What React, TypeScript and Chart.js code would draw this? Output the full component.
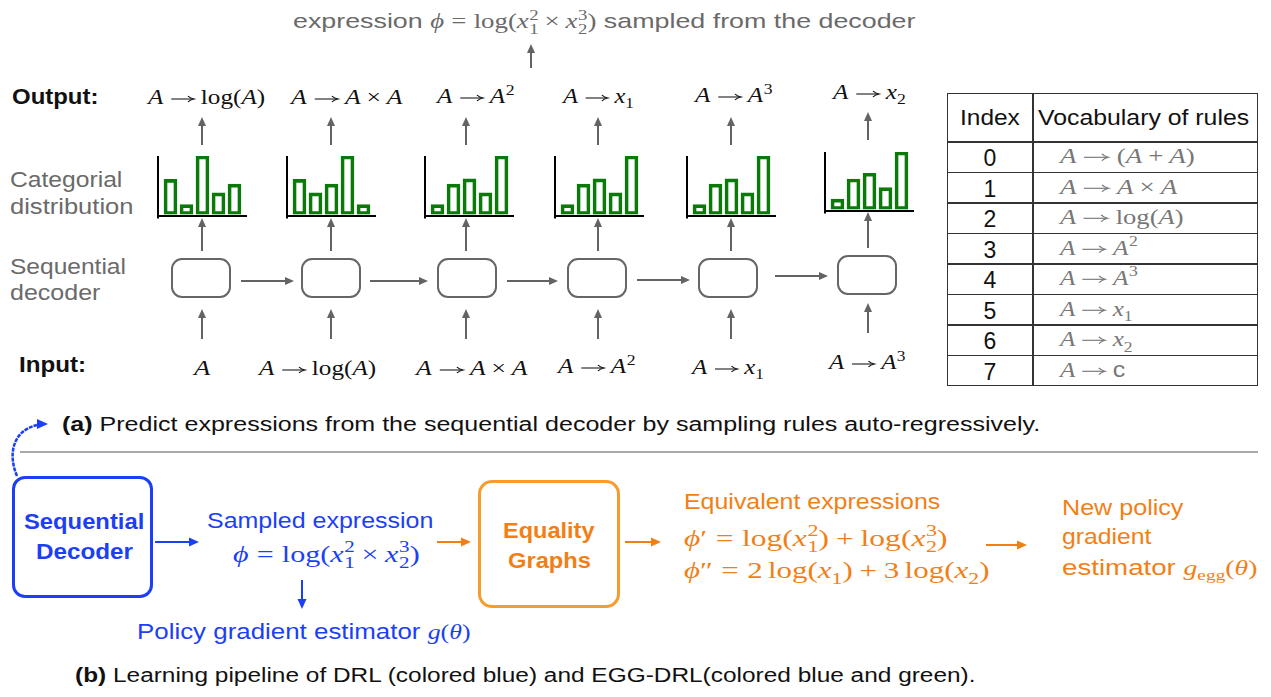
import React, { useEffect, useLayoutEffect, useRef } from 'react';
import { Chart, registerables } from 'chart.js';
Chart.register(...registerables);

// ---------- data ----------
const barCategories = ['0', '1', '2', '3', '4'];
const dist1 = [0.6, 0.17, 1.0, 0.37, 0.52];
const dist2 = [0.6, 0.37, 0.52, 1.0, 0.17];
const dist3 = [0.17, 0.52, 0.61, 0.37, 1.0];
const dist4 = [0.17, 0.52, 0.61, 0.37, 1.0];
const dist5 = [0.17, 0.52, 0.61, 0.37, 1.0];
const dist6 = [0.18, 0.53, 0.63, 0.38, 1.0];
const distributions = [dist1, dist2, dist3, dist4, dist5, dist6];

const outputRules = ['A → log(A)', 'A → A × A', 'A → A^2', 'A → x_1', 'A → A^3', 'A → x_2'];
const inputRules = ['A', 'A → log(A)', 'A → A × A', 'A → A^2', 'A → x_1', 'A → A^3'];
const ruleIndex = ['0', '1', '2', '3', '4', '5', '6', '7'];
const vocabRules = ['A → (A + A)', 'A → A × A', 'A → log(A)', 'A → A^2', 'A → A^3', 'A → x_1', 'A → x_2', 'A → c'];

// ---------- layout ----------
const colX = [202, 331, 466, 598, 731, 868];
const chartLeft = [158, 287, 425, 555, 687, 825];
const chartTop = [156, 156, 156, 156, 156, 152];
const chartBase = [216, 216, 216, 216, 216, 211];
const outLeft = [148, 291, 437, 563, 695, 833];
const outW = [117, 112, 78, 71, 78, 73];
const outY = [97, 97, 96, 96, 95, 92];
const inLeft = [194, 259, 416, 558, 692, 829];
const inW = [16, 117, 112, 78, 72, 77];
const inY = [368, 368, 368, 366, 367, 362];
const vocabW = [135, 117, 123, 78, 78, 73, 73, 65];
const decX = [171, 301, 437, 567, 698, 837];
const decY = [258, 258, 258, 258, 258, 255];

const GREEN = '#0b7a0b';
const GREY = '#6a6a6a';
const ARROW = '#636363';
const BLUE = '#1c3ff5';
const ORANGE = '#f27f16';
const ORANGE_BOX = '#f79c2c';
const SERIF = '"Liberation Serif", "DejaVu Serif", serif';
const SANS = '"Liberation Sans", Arial, sans-serif';

const supStyle: React.CSSProperties = { fontSize: '0.7em', position: 'relative', top: '-0.6em', marginLeft: '0.03em' };
const subStyle: React.CSSProperties = { fontSize: '0.7em', position: 'relative', top: '0.35em' };

function Stack({ sub, sup }: { sub: string; sup: string }) {
  return (
    <span style={{ display: 'inline-flex', flexDirection: 'column', fontSize: '0.7em', lineHeight: 0.95, position: 'relative', top: '-0.57em', verticalAlign: 'baseline', marginLeft: '0.03em', height: '1em' }}>
      <span>{sup}</span>
      <span>{sub}</span>
    </span>
  );
}

const Arr = () => (
  <svg width="0.95em" height="0.5em" viewBox="0 0 20 10" style={{ margin: '0 0.27em', overflow: 'visible' }}>
    <line x1="0.5" y1="5" x2="18.8" y2="5" stroke="currentColor" strokeWidth="1.1" />
    <path d="M14.5 1.8 Q16.3 4.1 19.6 5 Q16.3 5.9 14.5 8.2" fill="none" stroke="currentColor" strokeWidth="1.1" />
  </svg>
);

function math(s: string): React.ReactNode[] {
  const out: React.ReactNode[] = [];
  let i = 0;
  let k = 0;
  const readArg = (j: number): [string, number] => {
    if (s[j] === '{') {
      const e = s.indexOf('}', j);
      return [s.slice(j + 1, e), e + 1];
    }
    return [s[j], j + 1];
  };
  while (i < s.length) {
    if (s.startsWith('log', i)) { out.push(<span key={k++}>log</span>); i += 3; continue; }
    const ch = s[i];
    if (ch === ' ') {
      const prev = s[i - 1];
      const prev2 = s[i - 2];
      if (prev && /[0-9]/.test(prev) && prev2 !== '^' && prev2 !== '_') out.push(<span key={k++} style={{ marginLeft: '0.17em' }} />);
      i++;
      continue;
    }
    if (ch === '→') { out.push(<Arr key={k++} />); i++; continue; }
    if (ch === '×' || ch === '+') { out.push(<span key={k++} style={{ margin: '0 0.22em' }}>{ch}</span>); i++; continue; }
    if (ch === '=') { out.push(<span key={k++} style={{ margin: '0 0.27em' }}>=</span>); i++; continue; }
    if (ch === '_') {
      const [sub, j] = readArg(i + 1);
      if (s[j] === '^') {
        const [sup, j2] = readArg(j + 1);
        out.push(<Stack key={k++} sub={sub} sup={sup} />);
        i = j2;
        continue;
      }
      out.push(<span key={k++} style={subStyle}>{sub}</span>);
      i = j;
      continue;
    }
    if (ch === '^') {
      const [sup, j] = readArg(i + 1);
      out.push(<span key={k++} style={supStyle}>{sup}</span>);
      i = j;
      continue;
    }
    if ('Axϕθg'.includes(ch)) { out.push(<i key={k++}>{ch}</i>); i++; continue; }
    if (ch === 'c') { out.push(<span key={k++} style={{ fontFamily: SANS }}>c</span>); i++; continue; }
    out.push(<span key={k++}>{ch}</span>);
    i++;
  }
  return out;
}

const M = ({ s }: { s: string }) => <span style={{ fontFamily: SERIF }}>{math(s)}</span>;

type TxtProps = { x: number; y: number; w?: number; c?: boolean; style?: React.CSSProperties; children: React.ReactNode };
function Txt({ x, y, w, c, style, children }: TxtProps) {
  const ref = useRef<HTMLDivElement>(null);
  useLayoutEffect(() => {
    const el = ref.current;
    if (!el || !w) return;
    const nat = el.offsetWidth;
    if (nat > 0) el.style.transform = `translateY(-50%) scaleX(${w / nat})`;
  }, [w]);
  const left = w ? (c ? x - w / 2 : x) : x;
  return (
    <div
      ref={ref}
      style={{
        position: 'absolute', left, top: y, whiteSpace: 'nowrap', lineHeight: 1.2,
        transformOrigin: 'left center',
        transform: w ? 'translateY(-50%)' : c ? 'translate(-50%,-50%)' : 'translateY(-50%)',
        ...style,
      }}
    >
      {children}
    </div>
  );
}

function arrow(a: number[], color: string, key: string, head = 9, hw = 8, sw = 2) {
  const [x1, y1, x2, y2] = a;
  const dx = x2 - x1, dy = y2 - y1;
  const L = Math.hypot(dx, dy);
  const ux = dx / L, uy = dy / L;
  const bx = x2 - ux * head, by = y2 - uy * head;
  const px = (-uy * hw) / 2, py = (ux * hw) / 2;
  return (
    <g key={key}>
      <line x1={x1} y1={y1} x2={bx + ux} y2={by + uy} stroke={color} strokeWidth={sw} />
      <polygon points={`${x2},${y2} ${bx + px},${by + py} ${bx - px},${by - py}`} fill={color} />
    </g>
  );
}

// axis lines of the small charts, drawn from the chart's own chart area
const miniAxes = {
  id: 'miniAxes',
  afterDatasetsDraw(chart: any) {
    const { ctx, chartArea } = chart;
    const { left, right, top, bottom } = chartArea;
    ctx.save();
    ctx.strokeStyle = '#000';
    ctx.lineWidth = 2;
    ctx.beginPath();
    ctx.moveTo(left - 5.5, bottom + 1.5);
    ctx.lineTo(right + 4.5, bottom + 1.5);
    ctx.moveTo(left - 4.5, top);
    ctx.lineTo(left - 4.5, bottom + 4);
    ctx.stroke();
    ctx.restore();
  },
};

function MiniBar({ idx }: { idx: number }) {
  const ref = useRef<HTMLCanvasElement>(null);
  const values = distributions[idx];
  const h = chartBase[idx] - chartTop[idx];
  useEffect(() => {
    const chart = new Chart(ref.current!, {
      type: 'bar',
      data: {
        labels: barCategories,
        datasets: [{
          data: values,
          backgroundColor: 'rgba(255,255,255,0)',
          borderColor: GREEN,
          borderWidth: 3,
          borderSkipped: false,
          barThickness: 13,
        }],
      },
      options: {
        responsive: false,
        animation: false,
        events: [],
        layout: { padding: { left: 7.5, right: 7.5, top: 2, bottom: 4.5 } },
        plugins: { legend: { display: false }, tooltip: { enabled: false } },
        scales: {
          x: { display: false },
          y: { display: false, min: 0, max: 1 },
        },
      },
      plugins: [miniAxes],
    } as any);
    return () => chart.destroy();
  }, []);
  return (
    <canvas
      ref={ref}
      width={95}
      height={h + 5}
      style={{ position: 'absolute', left: chartLeft[idx] - 3, top: chartTop[idx] - 2 }}
    />
  );
}

export default function App() {
  const greyArrows: number[][] = [[531, 68, 531, 44]];
  colX.forEach((cx, i) => {
    const last = i === 5;
    greyArrows.push([cx, last ? 140 : 145, cx, last ? 112 : 117]);
    greyArrows.push([cx, last ? 248 : 251, cx, last ? 212 : 218]);
    greyArrows.push([cx, last ? 333 : 339, cx, last ? 303 : 309]);
  });
  greyArrows.push([241, 281, 294, 281], [370, 281, 428, 281], [507, 281, 558, 281], [637, 280, 690, 280], [775, 276, 828, 276]);

  const tableTop = 93;
  const headH = 49;
  const rowH = 30.5;

  return (
    <div style={{ position: 'fixed', left: 0, top: 0, width: 1271, height: 697, background: '#fff', overflow: 'hidden', fontFamily: SANS, color: '#111' }}>
      {/* top expression */}
      <Txt x={293} y={21} w={622} style={{ fontSize: 21, color: GREY }}>
        expression <M s="ϕ = log(x_1^2 × x_2^3)" /> sampled from the decoder
      </Txt>

      {/* row labels */}
      <Txt x={12} y={97} w={86} style={{ fontSize: 22, fontWeight: 700 }}>Output:</Txt>
      <Txt x={10} y={180} w={112} style={{ fontSize: 22, color: GREY }}>Categorial</Txt>
      <Txt x={10} y={207} w={123} style={{ fontSize: 22, color: GREY }}>distribution</Txt>
      <Txt x={10} y={267} w={116} style={{ fontSize: 22, color: GREY }}>Sequential</Txt>
      <Txt x={10} y={293} w={91} style={{ fontSize: 22, color: GREY }}>decoder</Txt>
      <Txt x={19} y={365} w={67} style={{ fontSize: 22, fontWeight: 700 }}>Input:</Txt>

      {outputRules.map((r, i) => (
        <Txt key={'o' + i} x={outLeft[i]} w={outW[i]} y={outY[i]} style={{ fontSize: 20, color: '#111' }}>
          <M s={r} />
        </Txt>
      ))}
      {inputRules.map((r, i) => (
        <Txt key={'i' + i} x={inLeft[i]} w={inW[i]} y={inY[i]} style={{ fontSize: 20, color: '#111' }}>
          <M s={r} />
        </Txt>
      ))}

      {distributions.map((_, i) => <MiniBar key={'c' + i} idx={i} />)}

      {decX.map((x, i) => (
        <div key={'d' + i} style={{ position: 'absolute', left: x, top: decY[i], width: 60, height: 40, border: '2px solid #666', borderRadius: 11, boxSizing: 'border-box' }} />
      ))}

      {/* table */}
      <div style={{ position: 'absolute', left: 947, top: tableTop, width: 311, height: headH + rowH * 8, border: '1.5px solid #333', boxSizing: 'border-box' }} />
      <div style={{ position: 'absolute', left: 1032, top: tableTop, width: 1.5, height: headH + rowH * 8, background: '#333' }} />
      {ruleIndex.map((_, i) => (
        <div key={'hl' + i} style={{ position: 'absolute', left: 947, top: tableTop + headH + rowH * i - 0.75, width: 311, height: 1.5, background: '#333' }} />
      ))}
      <Txt x={990} y={tableTop + 25} w={60} c style={{ fontSize: 22 }}>Index</Txt>
      <Txt x={1143} y={tableTop + 25} w={211} c style={{ fontSize: 22 }}>Vocabulary of rules</Txt>
      {ruleIndex.map((n, i) => (
        <Txt key={'n' + i} x={990} y={tableTop + headH + rowH * i + rowH / 2 + 2} c style={{ fontSize: 23 }}>{n}</Txt>
      ))}
      {vocabRules.map((r, i) => (
        <Txt key={'v' + i} x={1060} w={vocabW[i]} y={tableTop + headH + rowH * i + rowH / 2 - 1} style={{ fontSize: 22, color: '#777' }}>
          <M s={r} />
        </Txt>
      ))}

      {/* caption a */}
      <Txt x={62} y={424} w={978} style={{ fontSize: 20 }}><b>(a)</b> Predict expressions from the sequential decoder by sampling rules auto-regressively.</Txt>
      <div style={{ position: 'absolute', left: 20, top: 451, width: 1238, height: 2, background: '#a9a9a9' }} />

      {/* pipeline */}
      <div style={{ position: 'absolute', left: 12, top: 476, width: 141, height: 122, border: `3px solid ${BLUE}`, borderRadius: 13, boxSizing: 'border-box' }} />
      <Txt x={84} y={522} w={120} c style={{ fontSize: 22, fontWeight: 700, color: BLUE }}>Sequential</Txt>
      <Txt x={84} y={552} w={97} c style={{ fontSize: 22, fontWeight: 700, color: BLUE }}>Decoder</Txt>
      <Txt x={207} y={521} w={226} style={{ fontSize: 22, color: BLUE }}>Sampled expression</Txt>
      <Txt x={233} y={554} w={187} style={{ fontSize: 24, color: BLUE }}><M s="ϕ = log(x_1^2 × x_2^3)" /></Txt>
      <Txt x={137} y={632} w={333} style={{ fontSize: 22, color: BLUE }}>Policy gradient estimator <M s="g(θ)" /></Txt>

      <div style={{ position: 'absolute', left: 478, top: 480, width: 142, height: 128, border: `3px solid ${ORANGE_BOX}`, borderRadius: 14, boxSizing: 'border-box' }} />
      <Txt x={549} y={531} w={92} c style={{ fontSize: 22, fontWeight: 700, color: ORANGE }}>Equality</Txt>
      <Txt x={549} y={561} w={83} c style={{ fontSize: 22, fontWeight: 700, color: ORANGE }}>Graphs</Txt>
      <Txt x={684} y={502} w={256} style={{ fontSize: 22, color: ORANGE }}>Equivalent expressions</Txt>
      <Txt x={684} y={538} w={264} style={{ fontSize: 24, color: ORANGE }}><M s="ϕ′ = log(x_1^2) + log(x_2^3)" /></Txt>
      <Txt x={684} y={570} w={306} style={{ fontSize: 24, color: ORANGE }}><M s="ϕ″ = 2 log(x_1) + 3 log(x_2)" /></Txt>
      <Txt x={1062} y={508} w={121} style={{ fontSize: 22, color: ORANGE }}>New policy</Txt>
      <Txt x={1062} y={537} w={90} style={{ fontSize: 22, color: ORANGE }}>gradient</Txt>
      <Txt x={1062} y={568} w={195} style={{ fontSize: 22, color: ORANGE }}>estimator <M s="g_{egg}(θ)" /></Txt>

      <Txt x={75} y={675} w={900} style={{ fontSize: 20 }}><b>(b)</b> Learning pipeline of DRL (colored blue) and EGG-DRL(colored blue and green).</Txt>

      <svg width={1271} height={697} style={{ position: 'absolute', left: 0, top: 0, pointerEvents: 'none' }}>
        {greyArrows.map((a, i) => arrow(a, ARROW, 'g' + i))}
        {arrow([155, 542, 199, 542], BLUE, 'b1', 10, 9, 2)}
        {arrow([302, 580, 302, 609], BLUE, 'b2', 10, 9, 2)}
        {arrow([437, 542, 471, 542], ORANGE, 'o1', 10, 9, 2)}
        {arrow([625, 542, 661, 542], ORANGE, 'o2', 10, 9, 2)}
        {arrow([986, 545, 1027, 545], ORANGE, 'o3', 10, 9, 2)}
        <path d="M 17 476 C 8 455, 12 431, 37 425" fill="none" stroke={BLUE} strokeWidth={2.5} strokeDasharray="4 1" />
        <polygon points="48,424 37,419 37,429" fill={BLUE} />
      </svg>
    </div>
  );
}
